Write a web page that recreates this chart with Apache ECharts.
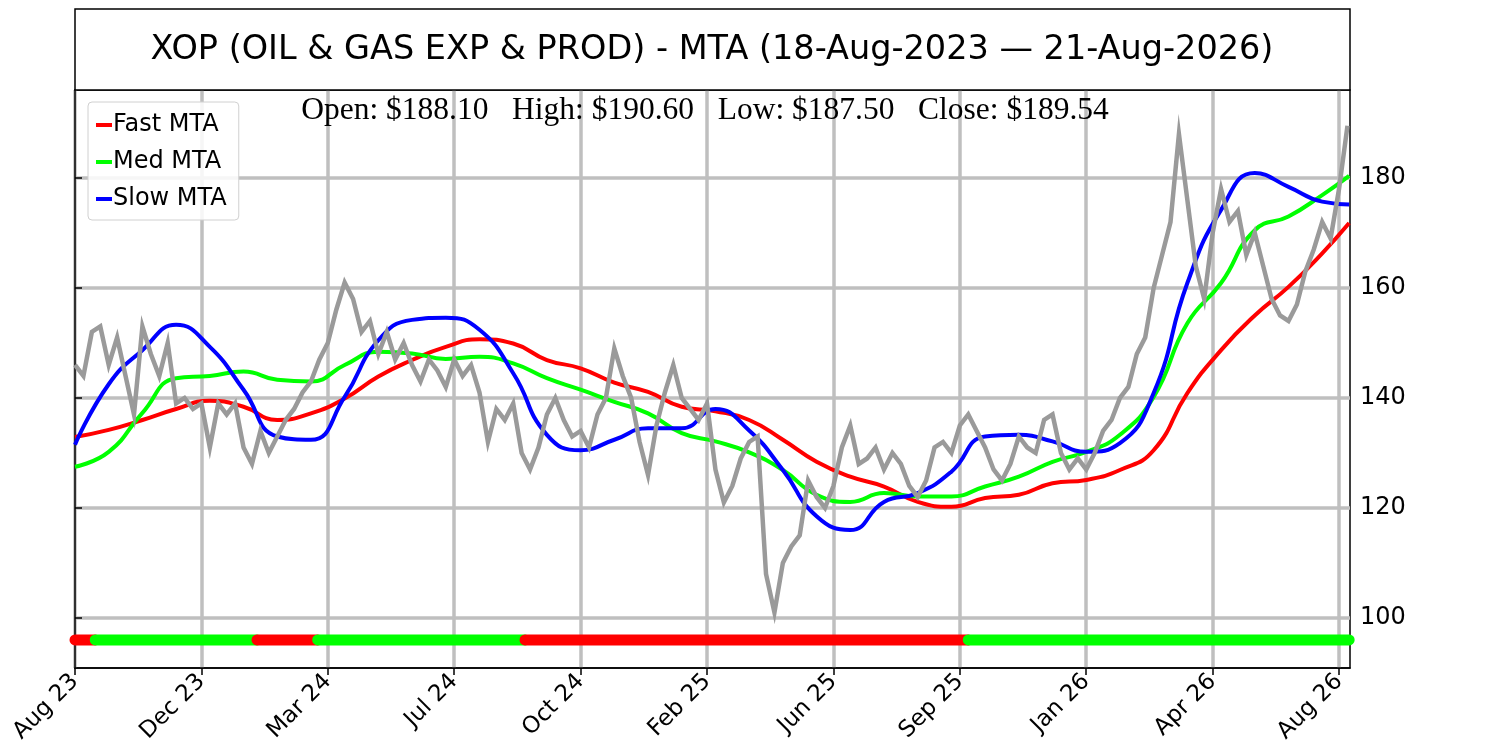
<!DOCTYPE html>
<html>
<head>
<meta charset="utf-8">
<title>XOP MTA</title>
<script src="https://cdn.jsdelivr.net/npm/echarts@6.0.0/dist/echarts.min.js"></script>
<style>
  html, body { margin: 0; padding: 0; background: #fff; }
  #main { width: 1500px; height: 750px; }
</style>
</head>
<body>
<div id="main"></div>
<script>
// x axis is the trading-day index (0 = 18-Aug-2023)
var tickDays = [0, 75, 150, 225, 300, 375, 450, 525, 600, 675, 750];
var tickLabels = ['Aug 23', 'Dec 23', 'Mar 24', 'Jul 24', 'Oct 24', 'Feb 25', 'Jun 25', 'Sep 25', 'Jan 26', 'Apr 26', 'Aug 26'];
var yTicks = [100, 120, 140, 160, 180];

// price, one reading every 5 trading days
var priceStep = 5;
var priceClose = [
  146, 144, 152, 153, 146, 151, 144, 137, 153, 148,
  144, 150, 139, 140, 138, 139, 131, 139, 137, 139,
  131, 128, 134, 130, 133, 136, 138, 141, 143, 147,
  150, 156, 161, 158, 152, 154, 148, 152, 147, 150,
  146, 143, 147, 145, 142, 147, 144, 146, 141, 132,
  138, 136, 139, 130, 127, 131, 137, 140, 136, 133,
  134, 131, 137, 140, 149, 144, 140, 132, 126, 135,
  141, 146, 140, 138, 136, 139, 127, 121, 124, 129,
  132, 133, 108, 101, 110, 113, 115, 125, 122, 120,
  124, 131, 135, 128, 129, 131, 127, 130, 128, 124,
  122, 125, 131, 132, 130, 135, 137, 134, 131, 127,
  125, 128, 133, 131, 130, 136, 137, 130, 127, 129,
  127, 130, 134, 136, 140, 142, 148, 151, 160, 166,
  172, 188, 176, 164, 158, 170, 178, 172, 174, 166,
  170, 164, 158, 155, 154, 157, 163, 167, 172, 169,
  178, 189.5
];

// moving trend averages, read every 20 trading days
var mtaDays = [0, 20, 40, 60, 80, 100, 120, 140, 160, 180, 200, 220, 240, 260, 280, 300, 320, 340, 360, 380,
  400, 420, 440, 460, 480, 500, 520, 540, 560, 580, 600, 620, 640, 660, 680, 700, 720, 740, 756];
var fastMta = [132.9, 134.2, 136.0, 138.0, 139.5, 138.4, 136.0, 137.2, 139.9, 143.9, 146.9, 149.3, 150.7, 149.9, 146.9, 145.4, 142.8, 141.1, 138.4, 137.6,
  136.0, 132.4, 128.4, 125.7, 123.9, 121.1, 120.2, 121.8, 122.4, 124.5, 125.1, 126.9, 130.5, 140.9, 148.7, 155.0, 160.2, 166.3, 171.8];
var medMta = [127.5, 130.2, 137.3, 143.6, 144.0, 144.8, 143.3, 143.0, 146.0, 148.4, 148.1, 147.1, 147.5, 146.3, 143.6, 141.5, 139.3, 137.2, 133.6, 132.1,
  130.1, 126.9, 122.4, 121.1, 122.7, 122.1, 122.1, 123.9, 125.7, 128.4, 130.2, 133.3, 140.2, 153.6, 160.9, 170.5, 173.0, 176.9, 180.4];
var slowMta = [131.5, 142.5, 148.7, 153.3, 149.3, 141.5, 133.0, 132.4, 140.2, 150.5, 154.2, 154.6, 152.4, 144.5, 133.3, 130.5, 132.4, 134.5, 134.5, 138.0,
  134.1, 126.9, 118.5, 116.0, 121.1, 122.7, 126.6, 133.0, 133.3, 132.1, 130.2, 131.8, 140.9, 160.9, 174.2, 180.9, 178.4, 175.7, 175.2];

// trend signal strip: [startDay, endDay, state]
var signalLevel = 96;
var signalSegments = [
  [0, 12, 'down'], [12, 108, 'up'], [108, 144, 'down'],
  [144, 267, 'up'], [267, 530, 'down'], [530, 756, 'up']
];

var ohlcText = 'Open: $188.10   High: $190.60   Low: $187.50   Close: $189.54';
var titleText = 'XOP (OIL & GAS EXP & PROD) - MTA (18-Aug-2023 \u2014 21-Aug-2026)';

function pairs(xs, ys) {
  return ys.map(function(v, i) { return [xs[i], v]; });
}

var priceData = priceClose.map(function(v, i) { return [i * priceStep, v]; });

var series = [
  { name: 'Fast MTA', type: 'line', data: pairs(mtaDays, fastMta), smooth: true, symbol: 'none', color: '#ff0000',
    lineStyle: { color: '#ff0000', width: 4 }, z: 3 },
  { name: 'Med MTA', type: 'line', data: pairs(mtaDays, medMta), smooth: true, symbol: 'none', color: '#00ff00',
    lineStyle: { color: '#00ff00', width: 4 }, z: 3 },
  { name: 'Slow MTA', type: 'line', data: pairs(mtaDays, slowMta), smooth: true, symbol: 'none', color: '#0000ff',
    lineStyle: { color: '#0000ff', width: 4 }, z: 3 },
  { name: 'Price', type: 'line', data: priceData, symbol: 'none', color: '#9a9a9a',
    lineStyle: { color: '#9a9a9a', width: 4.5, join: 'miter' }, z: 4 }
];

signalSegments.forEach(function(s) {
  var c = s[2] === 'up' ? '#00ff00' : '#ff0000';
  series.push({
    type: 'line', silent: true, symbol: 'none', z: 5,
    data: [[s[0], signalLevel], [s[1], signalLevel]],
    lineStyle: { color: c, width: 11, cap: 'round' }
  });
});

var myChart = echarts.init(document.getElementById('main'));
var option = {
  animation: false,
  backgroundColor: '#fff',
  grid: { left: 75, right: 150, top: 90, bottom: 82, show: true, borderColor: '#000', borderWidth: 1.5, backgroundColor: 'transparent' },
  legend: {
    data: ['Fast MTA', 'Med MTA', 'Slow MTA'],
    orient: 'vertical', left: 88, top: 102,
    icon: 'rect', itemWidth: 16, itemHeight: 4, itemGap: 13,
    padding: [11, 12, 9, 8],
    backgroundColor: 'rgba(255,255,255,0.85)', borderColor: '#d0d0d0', borderWidth: 1, borderRadius: 4,
    textStyle: { fontFamily: 'DejaVu Sans', fontSize: 24, color: '#000', padding: [0, 0, 0, -4] }
  },
  xAxis: {
    type: 'value', min: 0, max: 756.5,
    axisLine: { show: true, onZero: false, lineStyle: { color: '#000', width: 1.5 } },
    axisTick: { show: true, length: 7, customValues: tickDays, lineStyle: { color: '#000', width: 1.5 } },
    axisLabel: {
      customValues: tickDays, rotate: 45, margin: 10, fontFamily: 'DejaVu Sans', fontSize: 23, color: '#000',
      formatter: function(v) {
        var i = tickDays.indexOf(Math.round(v));
        return i >= 0 ? tickLabels[i] : '';
      }
    },
    splitLine: { show: true, lineStyle: { color: '#bfbfbf', width: 3.5 } }
  },
  yAxis: {
    type: 'value', position: 'right', min: 90.9, max: 196, scale: true,
    axisLine: { show: true, lineStyle: { color: '#000', width: 1.5 } },
    axisTick: { show: true, length: 7, customValues: yTicks, lineStyle: { color: '#000', width: 1.5 } },
    axisLabel: { customValues: yTicks, margin: 10, fontFamily: 'DejaVu Sans', fontSize: 24, color: '#000' },
    splitLine: { show: true, lineStyle: { color: '#bfbfbf', width: 3.5 } }
  },
  graphic: [
    { type: 'rect', shape: { x: 75, y: 9, width: 1275, height: 81 }, style: { fill: '#fff', stroke: '#000', lineWidth: 1.5 }, z: 10 },
    { type: 'text', x: 712, y: 50, z: 11,
      style: { text: titleText, fontFamily: 'DejaVu Sans', fontSize: 33.5, fill: '#000', align: 'center', verticalAlign: 'middle' } },
    { type: 'text', x: 705, y: 111, z: 11,
      style: { text: ohlcText, fontFamily: 'Liberation Serif', fontSize: 31.5, fill: '#000', align: 'center', verticalAlign: 'middle' } }
  ],
  series: series
};
myChart.setOption(option);
</script>
</body>
</html>
